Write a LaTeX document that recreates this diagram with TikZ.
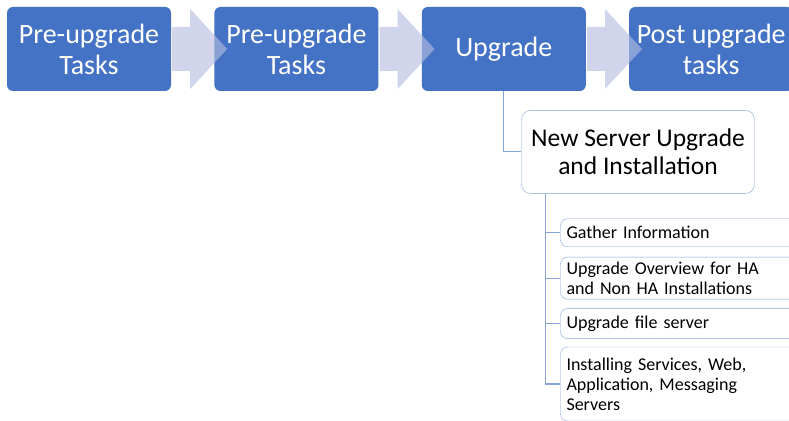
\documentclass[tikz,border=0pt]{standalone}
\usepackage{fontspec}
\setmainfont{Carlito}
\usetikzlibrary{positioning, calc}
\usepackage{xcolor}
\definecolor{stage}{HTML}{4472C4}
\definecolor{edge}{HTML}{86A3DA}
\definecolor{chevfill}{HTML}{B4BDDF}

\begin{document}
\begin{tikzpicture}[
  x=1pt, y=1pt,
  node distance=43pt,
  stage/.style={fill=stage, rounded corners=6pt, text=white, align=center,
                font=\fontsize{28}{31}\selectfont, inner sep=0pt,
                minimum width=164pt, minimum height=84pt},
  sub/.style={draw=edge, fill=white, rounded corners=9pt, align=center,
              font=\fontsize{25.5}{28}\selectfont, inner sep=0pt,
              minimum width=233pt, minimum height=83pt},
  item/.style={draw=edge, fill=white, rounded corners=7pt, align=left,
               font=\fontsize{18}{20}\selectfont, inner xsep=6pt, inner ysep=0pt,
               text width=228pt},
  link/.style={draw=edge, line width=1.2pt},
  chev/.style={fill=chevfill, fill opacity=0.63}
]
\useasboundingbox (0,0) rectangle (789,420);
\clip (0,0) rectangle (789,420);
% top row of stages
\node[stage] (pre1) at (89,371) {Pre-upgrade\\Tasks};
\node[stage, right=of pre1] (pre2) {Pre-upgrade\\Tasks};
\node[stage, right=of pre2] (upg) {Upgrade};
\node[stage, right=of upg] (post) {Post upgrade\\tasks};
\foreach \a/\b in {pre1/pre2, pre2/upg, upg/post}
  \fill[chev] ($(\a.east)+(1,22)$) -- ++(18,0) -- ++(0,18)
    -- ($(\b.west)+(13,0)$) -- ($(\a.east)+(19,-40)$) -- ++(0,18)
    -- ($(\a.east)+(1,-22)$) -- cycle;
% upgrade breakdown
\node[sub, anchor=north west] (nsu) at ($(upg.south)+(17.5,-19)$)
  {New Server Upgrade\\and Installation};
\draw[link] (upg.south) |- (nsu.west);
\coordinate (spine) at ($(nsu.south west)+(24,0)$);
\node[item, minimum height=28pt, anchor=north west] (gather)
  at ($(spine)+(15,-25)$) {Gather Information};
\node[item, minimum height=42pt, below=10pt of gather.south west, anchor=north west]
  (overview) {Upgrade Overview for HA\\and Non HA Installations};
\node[item, minimum height=30pt, below=9pt of overview.south west, anchor=north west]
  (files) {Upgrade file server};
\node[item, minimum height=74pt, below=8pt of files.south west, anchor=north west]
  (servers) {Installing Services, Web,\\Application, Messaging\\Servers};
\foreach \n in {gather, overview, files, servers}
  \draw[link] (spine) |- (\n.west);
\end{tikzpicture}
\end{document}
